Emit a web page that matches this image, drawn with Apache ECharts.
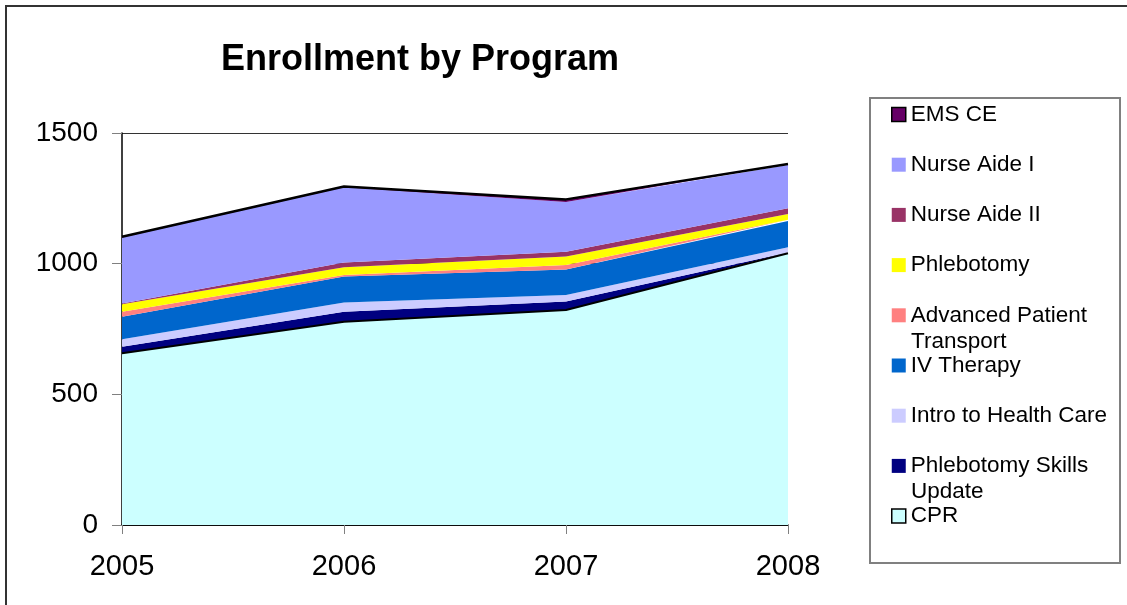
<!DOCTYPE html>
<html>
<head>
<meta charset="utf-8">
<script src="https://cdn.jsdelivr.net/npm/echarts@6/dist/echarts.min.js"></script>
<style>
  html, body { margin: 0; padding: 0; background: #fff; }
  #chart { width: 1127px; height: 605px; }
</style>
</head>
<body>
<div id="chart"></div>
<script>
// data
var years = ['2005', '2006', '2007', '2008'];
var cpr       = [657, 778, 823, 1040];
var phlebSkillsUpdate = [25, 38, 32, 3];
var introHealth = [29, 35, 25, 20];
var ivTherapy = [86, 100, 98, 100];
var advPatient = [19, 6, 17, 5];
var phlebotomy = [29, 29, 32, 22];
var nurseAide2 = [3, 18, 19, 22];
var nurseAide1 = [252, 288, 190, 166];
var emsCE     = [3, 3, 10, 3];
var yTicks = [0, 500, 1000, 1500];

var font = 'Liberation Sans, Arial, sans-serif';

function area(name, data, color, line) {
	return {
		name: name,
		type: 'line',
		stack: 'total',
		symbol: 'none',
		data: data,
		itemStyle: { color: color },
		areaStyle: { color: color, opacity: 1 },
		lineStyle: line || { width: 0, color: color }
	};
}

var legendNames = [
	{ name: 'EMS CE', itemStyle: { borderColor: '#000', borderWidth: 1.5 } },
	{ name: 'Nurse Aide I', itemStyle: { borderWidth: 0 } },
	{ name: 'Nurse Aide II', itemStyle: { borderWidth: 0 } },
	{ name: 'Phlebotomy', itemStyle: { borderWidth: 0 } },
	{ name: 'Advanced Patient Transport', itemStyle: { borderWidth: 0 } },
	{ name: 'IV Therapy', itemStyle: { borderWidth: 0 } },
	{ name: 'Intro to Health Care', itemStyle: { borderWidth: 0 } },
	{ name: 'Phlebotomy Skills Update', itemStyle: { borderWidth: 0 } },
	{ name: 'CPR', itemStyle: { borderColor: '#000', borderWidth: 1.5 } }
];

var chart = echarts.init(document.getElementById('chart'));
chart.setOption({
	animation: false,
	backgroundColor: '#fff',
	title: {
		text: 'Enrollment by Program',
		left: 221,
		top: 42,
		padding: 0,
		textStyle: { fontFamily: font, fontSize: 36, fontWeight: 'bold', color: '#000' }
	},
	grid: { left: 122, right: 339, top: 133, bottom: 80 },
	legend: {
		orient: 'vertical',
		left: 891,
		top: 103,
		padding: 0,
		itemGap: 27.2,
		itemWidth: 14,
		itemHeight: 14,
		icon: 'rect',
		selectedMode: false,
		formatter: function (n) {
			if (n === 'Advanced Patient Transport') return 'Advanced Patient';
			if (n === 'Phlebotomy Skills Update') return 'Phlebotomy Skills';
			return n;
		},
		textStyle: { fontFamily: font, fontSize: 22.5, lineHeight: 23, color: '#000' },
		data: legendNames
	},
	xAxis: {
		type: 'category',
		boundaryGap: false,
		data: years,
		axisLine: { lineStyle: { color: '#000', width: 1.5 } },
		axisTick: { show: true, alignWithLabel: true, length: 9, lineStyle: { color: '#808080' } },
		axisLabel: { fontFamily: font, fontSize: 29, color: '#000', margin: 27 }
	},
	yAxis: {
		type: 'value',
		min: yTicks[0],
		max: yTicks[yTicks.length - 1],
		interval: 500,
		axisLine: { show: true, lineStyle: { color: '#000', width: 1.5 } },
		axisTick: { show: true, length: 10, lineStyle: { color: '#808080' } },
		axisLabel: { fontFamily: font, fontSize: 28, color: '#000', margin: 24, formatter: function (v) { return String(v); } },
		splitLine: { show: true, lineStyle: { color: '#333', width: 1 } }
	},
	graphic: [
		{ type: 'rect', shape: { x: 6, y: 6, width: 1140, height: 620 }, style: { fill: 'none', stroke: '#333', lineWidth: 2 } },
		{ type: 'rect', shape: { x: 870, y: 98, width: 250, height: 465 }, style: { fill: 'none', stroke: '#808080', lineWidth: 2 } },
		{ type: 'text', x: 911, y: 342, style: { text: 'Transport', font: '22.5px ' + font, fill: '#000', textVerticalAlign: 'middle' } },
		{ type: 'text', x: 911, y: 492, style: { text: 'Update', font: '22.5px ' + font, fill: '#000', textVerticalAlign: 'middle' } }
	],
	series: [
		area('CPR', cpr, '#CCFFFF', { width: 2, color: '#000' }),
		area('Phlebotomy Skills Update', phlebSkillsUpdate, '#000080'),
		area('Intro to Health Care', introHealth, '#CCCCFF'),
		area('IV Therapy', ivTherapy, '#0066CC'),
		area('Advanced Patient Transport', advPatient, '#FF8080'),
		area('Phlebotomy', phlebotomy, '#FFFF00'),
		area('Nurse Aide II', nurseAide2, '#993366'),
		area('Nurse Aide I', nurseAide1, '#9999FF'),
		area('EMS CE', emsCE, '#660066', { width: 2.5, color: '#000' })
	]
});
</script>
</body>
</html>
